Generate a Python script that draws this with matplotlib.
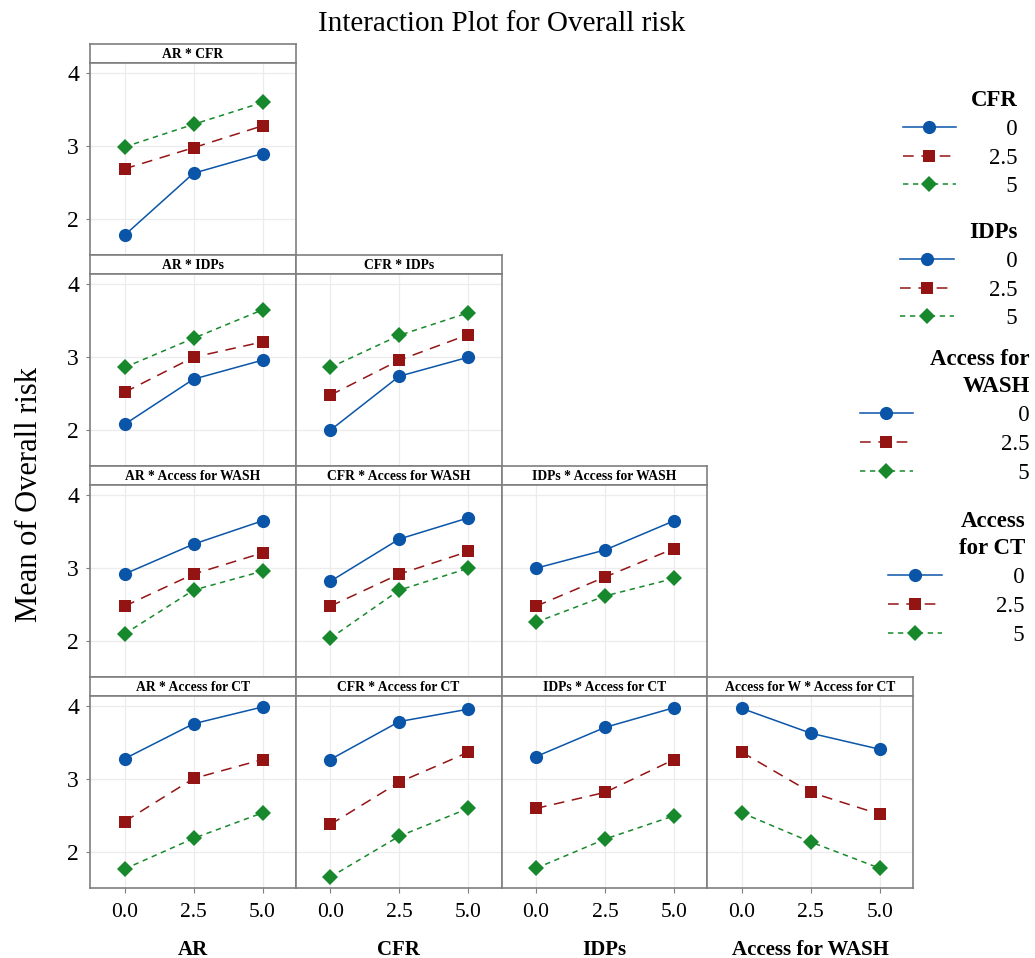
import matplotlib
matplotlib.use("Agg")
import matplotlib.pyplot as plt
from matplotlib.lines import Line2D

plt.rcParams['font.family'] = ['Liberation Serif', 'DejaVu Serif']

# ---------------- data ----------------
levels = [0.0, 2.5, 5.0]
level_labels = ["0", "2.5", "5"]
x_factors = ["AR", "CFR", "IDPs", "Access for WASH"]
trace_factors = ["CFR", "IDPs", "Access for\nWASH", "Access\nfor CT"]

# each panel: series for trace level 0, 2.5, 5 (values at x = 0, 2.5, 5)
ar_cfr = [[1.78, 2.63, 2.90], [2.69, 2.98, 3.28], [2.99, 3.30, 3.60]]
ar_idps = [[2.08, 2.70, 2.96], [2.52, 3.00, 3.21], [2.86, 3.26, 3.65]]
cfr_idps = [[2.00, 2.74, 3.00], [2.48, 2.96, 3.31], [2.86, 3.30, 3.61]]
ar_wash = [[2.92, 3.33, 3.65], [2.48, 2.92, 3.21], [2.10, 2.70, 2.96]]
cfr_wash = [[2.82, 3.40, 3.69], [2.48, 2.92, 3.23], [2.04, 2.70, 3.00]]
idps_wash = [[3.00, 3.25, 3.65], [2.48, 2.88, 3.27], [2.26, 2.62, 2.86]]
ar_ct = [[3.28, 3.76, 3.99], [2.42, 3.01, 3.27], [1.77, 2.19, 2.54]]
cfr_ct = [[3.27, 3.79, 3.96], [2.38, 2.96, 3.37], [1.66, 2.22, 2.60]]
idps_ct = [[3.31, 3.71, 3.98], [2.60, 2.82, 3.27], [1.78, 2.18, 2.50]]
wash_ct = [[3.97, 3.63, 3.41], [3.37, 2.82, 2.52], [2.54, 2.14, 1.78]]

panels = {
    (0, 0): ("AR * CFR", ar_cfr),
    (1, 0): ("AR * IDPs", ar_idps),
    (1, 1): ("CFR * IDPs", cfr_idps),
    (2, 0): ("AR * Access for WASH", ar_wash),
    (2, 1): ("CFR * Access for WASH", cfr_wash),
    (2, 2): ("IDPs * Access for WASH", idps_wash),
    (3, 0): ("AR * Access for CT", ar_ct),
    (3, 1): ("CFR * Access for CT", cfr_ct),
    (3, 2): ("IDPs * Access for CT", idps_ct),
    (3, 3): ("Access for W * Access for CT", wash_ct),
}

y_ticks = [2, 3, 4]
x_tick_labels = ["0.0", "2.5", "5.0"]

# ---------------- styles ----------------
colors = ["#0a55a8", "#941414", "#17892c"]
markers = ["o", "s", "D"]
msizes = [9.5, 8.8, 8.0]
lstyles = ["-", (0, (7, 5)), (0, (3.5, 3))]

W, H = 1035, 958
fig = plt.figure(figsize=(W / 100, H / 100), dpi=100)


def fx(px):
    return px / W


def fy(py):
    return 1 - py / H


col_left0, col_w = 90, 205.75
row_top0, row_step, strip_h, plot_h = 44, 211, 19, 192
frame_col = "#7f7f7f"

for (r, c), (title, series) in panels.items():
    left = col_left0 + c * col_w
    top = row_top0 + r * row_step
    # strip
    sax = fig.add_axes([fx(left), fy(top + strip_h), col_w / W, strip_h / H])
    sax.set_xticks([])
    sax.set_yticks([])
    for s in sax.spines.values():
        s.set_color(frame_col)
        s.set_linewidth(1.2)
    sax.text(0.5, 0.45, title, ha="center", va="center", fontsize=9.8,
             fontweight="bold", transform=sax.transAxes)
    # plot
    ax = fig.add_axes([fx(left), fy(top + strip_h + plot_h), col_w / W, plot_h / H])
    ax.set_xlim(-1.25, 6.2)
    ax.set_ylim(1.51, 4.14)
    ax.set_xticks(levels)
    ax.set_yticks(y_ticks)
    ax.grid(True, color="#ececec", linewidth=0.9)
    ax.set_axisbelow(True)
    for s in ax.spines.values():
        s.set_color(frame_col)
        s.set_linewidth(1.2)
    ax.tick_params(axis="y", length=3 if c == 0 else 0, color=frame_col,
                   labelsize=17, pad=5)
    ax.tick_params(axis="x", length=3.5 if r == 3 else 0, color=frame_col,
                   labelsize=15.5, pad=7)
    if c == 0:
        ax.set_yticklabels([str(t) for t in y_ticks])
    else:
        ax.set_yticklabels([])
    if r == 3:
        ax.set_xticklabels(x_tick_labels)
        ax.set_xlabel(x_factors[c], fontsize=15, fontweight="bold", labelpad=13)
    else:
        ax.set_xticklabels([])
    for k, ys in enumerate(series):
        ax.plot(levels, ys, color=colors[k], linestyle=lstyles[k], linewidth=1.1,
                marker=markers[k], markersize=msizes[k], markeredgewidth=0)

fig.text(fx(502), fy(31), "Interaction Plot for Overall risk", ha="center",
         va="baseline", fontsize=21)
fig.text(fx(30), fy(494), "Mean of Overall risk", ha="center", va="center",
         rotation=90, fontsize=22)

# ---------------- legends ----------------
pad_labels = ["\u2007\u20080", "2.5", "\u2007\u20085"]
handles = [Line2D([], [], color=colors[k], linestyle=lstyles[k], linewidth=1.1,
                  marker=markers[k], markersize=msizes[k], markeredgewidth=0)
           for k in range(3)]
legend_right = [1018, 1018, 1030, 1025]
legend_tops = [90, 222, 349, 511]
legend_textpad = [1.44, 1.53, 3.84, 2.36]
for i, tname in enumerate(trace_factors):
    leg = fig.legend(handles, pad_labels, title=tname, loc="upper right",
                     bbox_to_anchor=(fx(legend_right[i]), fy(legend_tops[i])),
                     frameon=False, fontsize=16.5, handlelength=2.35,
                     handletextpad=legend_textpad[i], labelspacing=0.34,
                     borderpad=0, borderaxespad=0, alignment="right",
                     title_fontproperties={"weight": "bold", "size": 16.5})
    leg.get_title().set_multialignment("right")
    leg.get_title().set_linespacing(1.4)

fig.savefig("out.png", dpi=100)
